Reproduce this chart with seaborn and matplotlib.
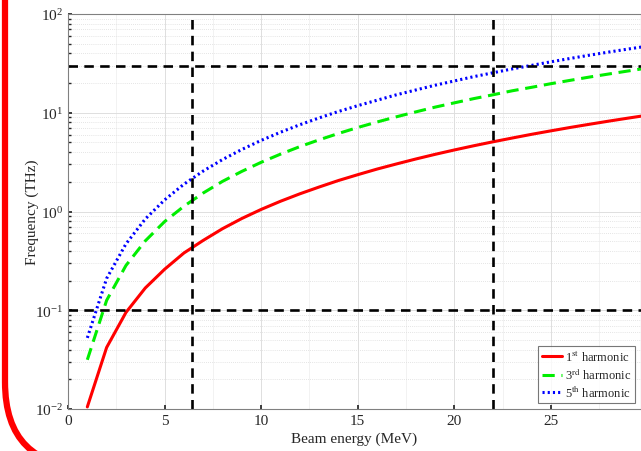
import numpy as np
import pandas as pd
import matplotlib
matplotlib.use("Agg")
import matplotlib.pyplot as plt
from matplotlib.patches import FancyBboxPatch
from matplotlib.transforms import IdentityTransform
from matplotlib.ticker import MultipleLocator
import seaborn as sns

energy = list(range(1, 31))
harm1 = [0.0105, 0.042, 0.095, 0.168, 0.26, 0.38, 0.51, 0.67, 0.85, 1.05,
         1.27, 1.51, 1.77, 2.06, 2.36, 2.69, 3.03, 3.40, 3.79, 4.20,
         4.63, 5.08, 5.55, 6.05, 6.56, 7.10, 7.65, 8.23, 8.83, 9.45]
harm3 = [0.0315, 0.126, 0.284, 0.504, 0.79, 1.13, 1.54, 2.02, 2.55, 3.15,
         3.81, 4.54, 5.32, 6.17, 7.09, 8.06, 9.10, 10.2, 11.4, 12.6,
         13.9, 15.2, 16.7, 18.1, 19.7, 21.3, 23.0, 24.7, 26.5, 28.4]
harm5 = [0.0525, 0.21, 0.47, 0.84, 1.31, 1.89, 2.57, 3.36, 4.25, 5.25,
         6.35, 7.56, 8.87, 10.3, 11.8, 13.4, 15.2, 17.0, 19.0, 21.0,
         23.2, 25.4, 27.8, 30.2, 32.8, 35.5, 38.3, 41.2, 44.2, 47.3]
labels = ["1$^{\\mathrm{st}}$ harmonic", "3$^{\\mathrm{rd}}$ harmonic", "5$^{\\mathrm{th}}$ harmonic"]
vlines = [6.4, 22.0]
hlines = [0.1, 30.0]

sns.set_theme(style="ticks")
plt.rcParams["font.family"] = ["Liberation Serif", "DejaVu Serif"]
plt.rcParams["mathtext.fontset"] = "stix"

df = pd.DataFrame({
    "E": energy * 3,
    "f": harm1 + harm3 + harm5,
    "s": [labels[0]] * 30 + [labels[1]] * 30 + [labels[2]] * 30,
})

fig = plt.figure(figsize=(6.41, 4.52), dpi=100)
ax = fig.add_axes([68 / 641, 1 - 410 / 452, 1 - 68 / 641, (410 - 15) / 452])

palette = {labels[0]: "#ff0000", labels[1]: "#00ee00", labels[2]: "#0000ff"}
sns.lineplot(data=df, x="E", y="f", hue="s", style="s", palette=palette,
             dashes={labels[0]: "", labels[1]: (4, 2.2), labels[2]: (0.7, 1.0)},
             linewidth=2.2, ax=ax, legend=True)

ax.set_yscale("log")
ax.set_xlim(0, 29.66)
ax.set_ylim(1e-2, 1e2)

for v in vlines:
    ax.axvline(v, color="black", lw=1.9, ls=(0, (3.6, 2.4)))
for h in hlines:
    ax.axhline(h, color="black", lw=1.9, ls=(0, (3.6, 2.4)))

ax.set_xticks([0, 5, 10, 15, 20, 25])
ax.xaxis.set_minor_locator(MultipleLocator(2.5))
ax.grid(True, which="major", color="#dedede", lw=0.7)
ax.grid(True, which="minor", axis="x", color="#f0f0f0", lw=0.6)
ax.grid(True, which="minor", axis="y", color="#dcdcdc", lw=0.6, ls=(0, (1, 1.5)))
ax.set_axisbelow(True)

ax.tick_params(axis="both", which="both", direction="in", labelsize=11,
               colors="#262626", length=3)
ax.tick_params(axis="y", which="minor", length=2)
ax.tick_params(axis="x", which="minor", length=0)
ax.set_xlabel("Beam energy (MeV)", fontsize=11, color="#262626", labelpad=3)
ax.set_ylabel("Frequency (THz)", fontsize=11, color="#262626", labelpad=-3)
for sp in ax.spines.values():
    sp.set_color("#808080")
    sp.set_linewidth(0.8)

leg = ax.legend(loc="lower right", fontsize=9, frameon=True, fancybox=False,
                handlelength=1.6, handletextpad=0.3, borderpad=0.3,
                labelspacing=0.2, borderaxespad=0.45)
leg.get_frame().set_edgecolor("#555555")
leg.get_frame().set_linewidth(0.8)

border = FancyBboxPatch((5, 452 - 468), 1000, 1000,
                        boxstyle="round,pad=0,rounding_size=85",
                        transform=IdentityTransform(), facecolor="none",
                        edgecolor="#ff0000", linewidth=4.5, clip_on=False)
fig.add_artist(border)

fig.savefig("out.png", dpi=100)
